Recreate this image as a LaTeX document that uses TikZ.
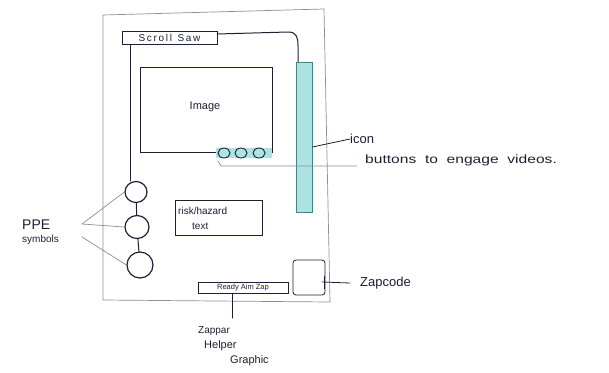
\documentclass[tikz,border=0pt]{standalone}
\usepackage{fontspec}
\setmainfont{Liberation Sans}
\definecolor{ink}{HTML}{1E1E35}
\definecolor{pencil}{HTML}{8C8C9C}
\definecolor{iconfill}{HTML}{AEE3E3}
\definecolor{iconline}{HTML}{3E8585}
\tikzset{
  x=1pt, y=-1pt,
  inkline/.style={draw=ink, line width=1pt, line cap=round, line join=round},
  penline/.style={draw=pencil, line width=0.7pt, line cap=round, line join=round},
  lbl/.style={text=ink, inner sep=0pt, font=\fontsize{12}{14}\selectfont},
  boxnode/.style={draw=ink, line width=0.9pt, rectangle, inner sep=0pt},
  ppe/.style={draw=ink, line width=1.2pt, ellipse, inner sep=0pt},
  btn/.style={draw=ink, line width=0.9pt, ellipse, inner sep=0pt, minimum width=12pt, minimum height=10pt},
}
\usetikzlibrary{shapes.geometric}
\begin{document}
\begin{tikzpicture}
\useasboundingbox (0,0) rectangle (609,372);
% page outline
\draw[penline] (103,15) -- (324,9) -- (330,302) -- (103,300) -- cycle;
% scroll saw box
\node[boxnode, minimum width=95pt, minimum height=13pt] (scroll) at (169.5,37.5) {};
\node[lbl, font=\fontsize{10}{12}\selectfont] (scrolltxt) at (169.5,37.5) {S\,c\,r\,o\,l\,l\ \ S\,a\,w};
% icon bar
\node[draw=iconline, fill=iconfill, line width=0.8pt, minimum width=16pt, minimum height=150pt, inner sep=0pt] (icon) at (304,137) {};
\coordinate (scrollr) at (217,34);
\draw[inkline] (scrollr) -- (288,32) .. controls (297,32) and (298,38) .. (298,46) -- (icon.north -| 298,0);
% image box
\node[boxnode, minimum width=132pt, minimum height=85pt] (image) at (206,109.5) {};
\node[lbl, font=\fontsize{11}{13}\selectfont] (imagetxt) at (205,107) {Image};
% buttons
\fill[iconfill] (216,148) rectangle (272,158);
\node[btn] (b1) at (224,153) {};
\node[btn] (b2) at (241,153) {};
\node[btn] (b3) at (259,153) {};
\coordinate (brk) at (218,161);
\coordinate (brkc) at (221,166);
\coordinate (brkend) at (357,166);
\node[lbl, font=\fontsize{12}{14}\selectfont, anchor=west] (buttons) at (365,160) {\scalebox{1.3}[1]{buttons\ \ to\ \ engage\ \ videos.}};
\draw[penline] (brk) -- (brkc) -- (brkend);
% icon label
\node[lbl, font=\fontsize{13}{15}\selectfont, anchor=west] (icontxt) at (350,139) {icon};
\draw[inkline, line width=0.8pt] (icon.east |- 0,147) -- (icontxt.west);
% PPE circles
\node[ppe, minimum width=22pt, minimum height=21pt] (c1) at (136,192) {};
\node[ppe, minimum width=24pt, minimum height=23pt] (c2) at (137,227) {};
\node[ppe, minimum width=26pt, minimum height=26pt] (c3) at (140,265) {};
\draw[inkline] (scroll.south -| 130,0) -- (c1.north -| 130,0);
\draw[inkline] (c1) -- (c2);
\draw[inkline] (c2) -- (c3);
\node[lbl, font=\fontsize{14}{16}\selectfont, anchor=west] (ppetxt) at (22,225) {PPE};
\node[lbl, font=\fontsize{10}{12}\selectfont, anchor=west] (symtxt) at (22,240) {symbols};
\coordinate (ppefork) at (82,224);
\coordinate (ppefork2) at (82,237);
\draw[penline] (ppefork) -- (c1.west);
\draw[penline] (ppefork) -- (c2.west);
\draw[penline] (ppefork2) -- (c3.west);
% risk box
\node[boxnode, minimum width=87pt, minimum height=35pt] (risk) at (218.5,217.5) {};
\node[lbl, font=\fontsize{10}{12}\selectfont, anchor=west] (risk1) at (178,211) {risk/hazard};
\node[lbl, font=\fontsize{10}{12}\selectfont, anchor=west] (risk2) at (192,226) {text};
% ready aim zap
\node[boxnode, minimum width=90pt, minimum height=11pt] (ready) at (243,287.5) {};
\node[lbl, font=\fontsize{7.5}{8}\selectfont] (readytxt) at (243,287.5) {Ready Aim Zap};
\coordinate (readyend) at (232,318);
\draw[inkline] (ready.south -| 232,0) -- (readyend);
\node[lbl, font=\fontsize{10}{12}\selectfont, anchor=west] (zap1) at (198,331) {Zappar};
\node[lbl, font=\fontsize{11}{13}\selectfont, anchor=west] (zap2) at (204,346) {Helper};
\node[lbl, font=\fontsize{11}{13}\selectfont, anchor=west] (zap3) at (230,361) {Graphic};
% zapcode
\node[draw=ink, line width=0.8pt, rounded corners=3pt, minimum width=32pt, minimum height=35pt, inner sep=0pt] (zapbox) at (309,277.5) {};
\node[lbl, font=\fontsize{13}{15}\selectfont, anchor=west] (zapcode) at (360,283) {Zapcode};
\coordinate (zaptick) at (322,282);
\draw[inkline, line width=0.8pt] (zaptick) -- (zapcode.west -| 350,0);
\draw[inkline, line width=0.8pt] (324,276) -- (324,289);
\end{tikzpicture}
\end{document}
